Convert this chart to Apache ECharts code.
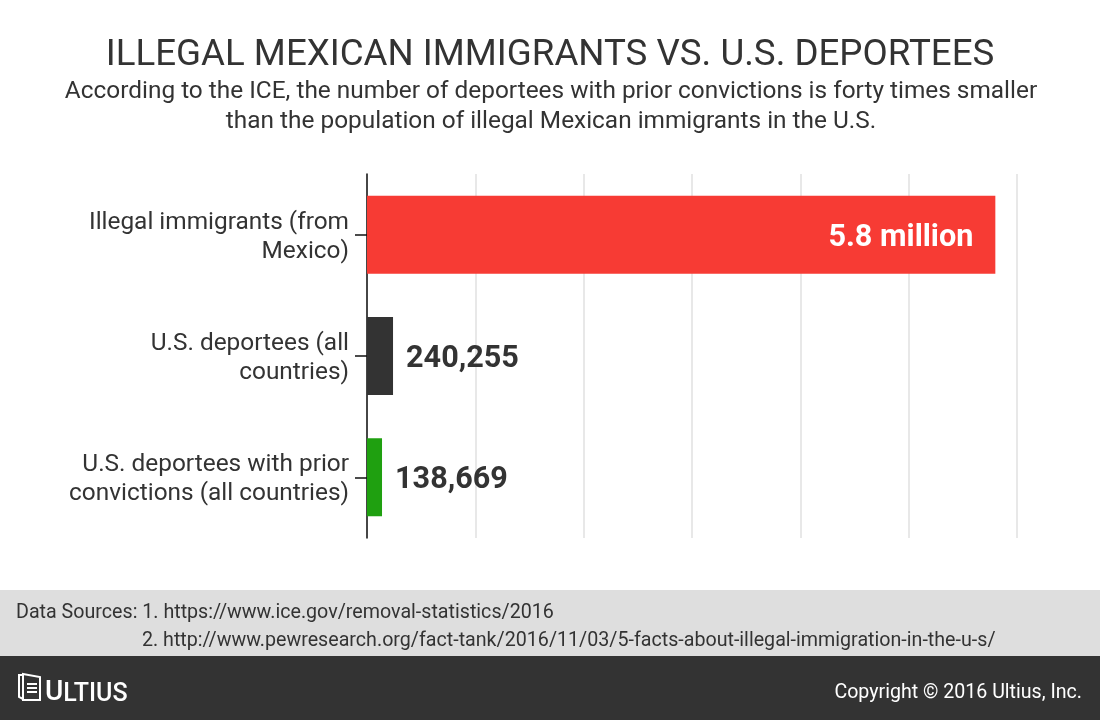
<!DOCTYPE html>
<html>
<head>
<meta charset="utf-8">
<style>
  html, body { margin: 0; padding: 0; background: #fff; }
  #chart { width: 1100px; height: 720px; }
</style>
<script src="https://cdn.jsdelivr.net/npm/echarts@6/dist/echarts.min.js"></script>
</head>
<body>
<div id="chart"></div>
<script>
const categories = [
  'Illegal immigrants (from\nMexico)',
  'U.S. deportees (all\ncountries)',
  'U.S. deportees with prior\nconvictions (all countries)'
];
const values = [5800000, 240255, 138669];
const valueLabels = ['5.8 million', '240,255', '138,669'];
const barColors = ['#f73b34', '#333333', '#1fa010'];

const FONT = 'Roboto, sans-serif';

const chart = echarts.init(document.getElementById('chart'), undefined, { renderer: 'canvas' });

// the first bar carries its label inside, the short ones outside
const barData = values.map((v, i) => ({
  value: v,
  itemStyle: { color: barColors[i] },
  label: {
    show: true,
    formatter: valueLabels[i],
    position: i === 0 ? 'insideRight' : 'right',
    distance: i === 0 ? 22 : 13,
    offset: [0, i === 0 ? 4 : 3],
    color: i === 0 ? '#ffffff' : '#333333',
    fontFamily: FONT,
    fontWeight: 700,
    fontSize: 30.6
  }
}));

chart.setOption({
  animation: false,
  backgroundColor: '#ffffff',
  grid: { left: 367, top: 174, width: 650, height: 364 },
  xAxis: {
    type: 'value',
    min: 0,
    max: 6000000,
    interval: 1000000,
    axisLine: { show: false },
    axisTick: { show: false },
    axisLabel: { show: false },
    splitLine: { show: true, lineStyle: { color: '#e8e8e8', width: 2 } }
  },
  yAxis: {
    type: 'category',
    inverse: true,
    data: categories,
    axisLine: { show: true, lineStyle: { color: '#111111', width: 1.5 } },
    axisTick: { show: true, alignWithLabel: true, length: 12, lineStyle: { color: '#111111', width: 1.5 } },
    axisLabel: {
      margin: 18,
      align: 'right',
      // plain padding on the label is ignored, so nudge each line through rich text
      formatter: (name) => name.split('\n').map((line) => '{line|' + line + '}').join('\n'),
      rich: {
        line: { fontFamily: FONT, fontSize: 24.4, lineHeight: 29, color: '#333333', align: 'right', padding: [5, 0, 0, 0] }
      }
    }
  },
  series: [
    {
      type: 'bar',
      barWidth: 78,
      data: barData
    }
  ],
  graphic: [
    { type: 'text', x: 550, y: 37, style: { text: 'ILLEGAL MEXICAN IMMIGRANTS VS. U.S. DEPORTEES', align: 'center', font: '400 36.7px Roboto, sans-serif', fill: '#333333' } },
    { type: 'text', x: 551, y: 80, style: { text: 'According to the ICE, the number of deportees with prior convictions is forty times smaller', align: 'center', font: '400 24.4px Roboto, sans-serif', fill: '#333333' } },
    { type: 'text', x: 551, y: 110, style: { text: 'than the population of illegal Mexican immigrants in the U.S.', align: 'center', font: '400 24.4px Roboto, sans-serif', fill: '#333333' } },
    { type: 'rect', silent: true, z: -1, shape: { x: 0, y: 590, width: 1100, height: 66 }, style: { fill: '#dedede' } },
    { type: 'rect', silent: true, z: -1, shape: { x: 0, y: 656, width: 1100, height: 64 }, style: { fill: '#333333' } },
    { type: 'text', x: 16, y: 603, style: { text: 'Data Sources: 1. https://www.ice.gov/removal-statistics/2016', font: '400 19.67px Roboto, sans-serif', fill: '#333333' } },
    { type: 'text', x: 142, y: 631, style: { text: '2. http://www.pewresearch.org/fact-tank/2016/11/03/5-facts-about-illegal-immigration-in-the-u-s/', font: '400 19.67px Roboto, sans-serif', fill: '#333333' } },
    { type: 'text', x: 1082, y: 683, style: { text: 'Copyright © 2016 Ultius, Inc.', align: 'right', font: '400 19.6px Roboto, sans-serif', fill: '#ffffff' } },
    // logo: stacked pages and the wordmark
    { type: 'polyline', silent: true, shape: { points: [[23, 675], [19, 675], [19, 697], [23, 699]] }, style: { fill: 'none', stroke: '#ffffff', lineWidth: 2 } },
    { type: 'polygon', silent: true, shape: { points: [[23, 674], [40, 677], [40, 700], [23, 700]] }, style: { fill: 'none', stroke: '#ffffff', lineWidth: 2 } },
    { type: 'rect', silent: true, shape: { x: 27, y: 683, width: 10, height: 2 }, style: { fill: '#ffffff' } },
    { type: 'rect', silent: true, shape: { x: 27, y: 687, width: 10, height: 2 }, style: { fill: '#ffffff' } },
    { type: 'rect', silent: true, shape: { x: 27, y: 691, width: 10, height: 2 }, style: { fill: '#ffffff' } },
    {
      type: 'text',
      x: 45,
      y: 678,
      style: {
        text: '{a|U}{b|LTIUS}',
        rich: {
          a: { font: '500 28px Roboto, sans-serif', fill: '#ffffff' },
          b: { font: '500 25px Roboto, sans-serif', fill: '#ffffff', padding: [4, 0, 0, 0] }
        }
      }
    }
  ]
});

window.addEventListener('resize', () => chart.resize());
</script>
</body>
</html>
